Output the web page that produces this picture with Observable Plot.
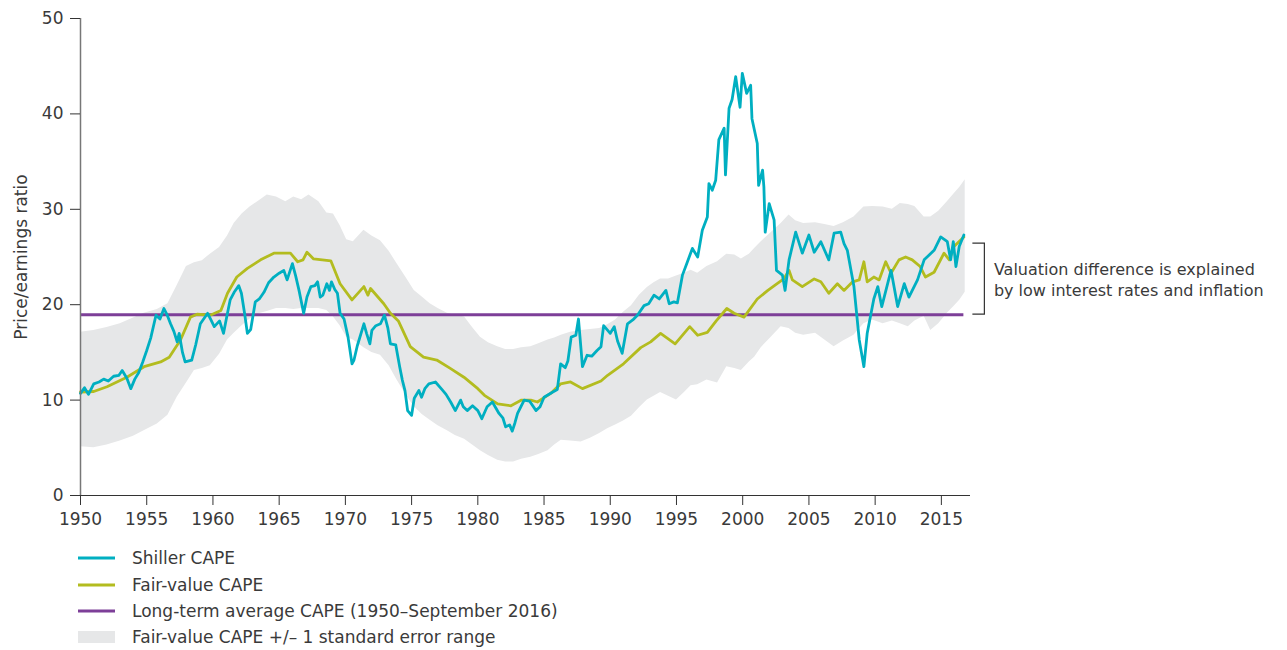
<!DOCTYPE html>
<html>
<head>
<meta charset="utf-8">
<script src="https://cdn.jsdelivr.net/npm/d3@7"></script>
<script src="https://cdn.jsdelivr.net/npm/@observablehq/plot@0.6"></script>
<style>
  body { margin: 0; background: #fff; font-family: "DejaVu Sans", sans-serif; color: #3a3a3a; }
  #chart svg { display: block; overflow: visible; }
  .legend { margin-left: 78px; padding-top: 5px; font-size: 17px; color: #3a3a3a; }
  .legend .row { display: flex; align-items: center; height: 26.4px; }
  .legend .sw { width: 37px; margin-right: 17px; display: flex; align-items: center; }
</style>
</head>
<body>
<div id="chart"></div>
<div class="legend" id="legend"></div>
<script>
// ---------- DATA ----------
const shillerYears = [1950.0,1950.3,1950.6,1951.0,1951.4,1951.75,1952.1,1952.5,1952.9,1953.15,1953.5,1953.8,1954.1,1954.4,1954.7,1955.0,1955.3,1955.7,1956.0,1956.3,1956.55,1956.8,1957.05,1957.3,1957.45,1957.7,1957.9,1958.4,1958.7,1959.05,1959.35,1959.6,1959.85,1960.1,1960.5,1960.8,1961.05,1961.3,1961.6,1961.95,1962.15,1962.4,1962.6,1962.85,1963.2,1963.5,1963.85,1964.2,1964.6,1965.0,1965.35,1965.6,1966.0,1966.25,1966.5,1966.85,1967.1,1967.4,1967.7,1967.9,1968.1,1968.3,1968.6,1968.8,1968.95,1969.2,1969.4,1969.6,1969.9,1970.2,1970.5,1970.65,1970.9,1971.4,1971.6,1971.85,1972.0,1972.3,1972.65,1972.95,1973.2,1973.4,1973.8,1974.1,1974.3,1974.5,1974.7,1975.0,1975.2,1975.55,1975.75,1976.0,1976.3,1976.8,1977.3,1977.6,1977.95,1978.3,1978.7,1978.9,1979.2,1979.6,1980.0,1980.3,1980.7,1981.1,1981.6,1981.9,1982.1,1982.4,1982.6,1982.8,1983.0,1983.5,1983.9,1984.4,1984.7,1985.0,1985.6,1986.0,1986.25,1986.6,1986.8,1987.05,1987.4,1987.6,1987.8,1987.9,1988.25,1988.6,1989.0,1989.3,1989.5,1990.0,1990.3,1990.55,1990.9,1991.3,1991.7,1992.05,1992.55,1992.9,1993.3,1993.7,1994.2,1994.45,1994.8,1995.07,1995.45,1995.8,1996.2,1996.6,1996.95,1997.33,1997.45,1997.7,1997.96,1998.2,1998.6,1998.7,1998.97,1999.2,1999.47,1999.8,1999.97,2000.3,2000.6,2000.7,2001.1,2001.2,2001.5,2001.6,2001.7,2002.0,2002.37,2002.55,2003.0,2003.2,2003.5,2004.0,2004.5,2005.0,2005.4,2005.9,2006.5,2006.9,2007.4,2007.65,2007.9,2008.4,2008.8,2009.15,2009.4,2009.9,2010.2,2010.5,2011.2,2011.7,2012.2,2012.55,2013.2,2013.7,2014.45,2014.95,2015.45,2015.7,2015.9,2016.1,2016.35,2016.7];
const shillerCape = [10.7,11.3,10.6,11.7,11.9,12.2,12.0,12.5,12.6,13.1,12.3,11.2,12.2,12.9,14.0,15.2,16.5,18.9,18.5,19.6,18.9,18.0,17.2,16.1,17.0,15.0,14.0,14.2,15.8,18.0,18.6,19.1,18.4,17.7,18.3,17.0,18.8,20.5,21.3,22.0,21.2,19.0,17.0,17.4,20.3,20.6,21.3,22.3,22.9,23.3,23.6,22.6,24.3,23.0,21.5,19.1,20.8,21.9,22.0,22.4,20.8,21.0,22.2,21.5,22.4,21.6,21.2,19.1,18.5,16.6,13.8,14.2,15.7,18.0,17.0,15.9,17.3,17.8,18.0,18.9,17.6,15.9,15.8,13.5,12.1,11.0,8.9,8.4,10.2,11.0,10.3,11.2,11.7,11.9,11.1,10.6,9.8,8.9,10.0,9.3,8.9,9.4,8.9,8.05,9.3,9.8,8.6,8.1,7.2,7.4,6.75,7.6,8.6,10.0,9.9,8.9,9.3,10.3,10.8,11.1,13.8,13.4,14.1,16.6,16.8,18.5,15.2,13.5,14.7,14.6,15.2,15.6,17.8,17.0,17.7,16.2,14.9,18.0,18.4,18.9,19.9,20.1,21.0,20.6,21.5,20.1,20.3,20.2,23.1,24.4,25.9,25.0,27.8,29.2,32.7,32.0,33.05,37.3,38.5,33.6,40.6,41.5,43.9,40.7,44.25,42.15,43.0,39.5,36.9,32.5,34.1,32.35,27.6,30.6,28.9,23.6,23.1,21.5,24.7,27.6,25.4,27.3,25.5,26.6,24.7,27.5,27.6,26.4,25.7,21.9,16.3,13.5,17.0,20.6,21.9,19.8,23.6,19.8,22.2,20.8,22.6,24.7,25.7,27.1,26.6,24.7,26.6,24.0,26.1,27.3];

const fairYears = [1950.0,1951.0,1952.0,1953.5,1954.8,1956.05,1956.7,1957.55,1958.3,1958.8,1959.8,1960.6,1961.1,1961.8,1962.6,1963.6,1964.6,1965.85,1966.4,1966.8,1967.1,1967.6,1968.9,1969.6,1970.5,1971.4,1971.7,1971.9,1972.9,1973.4,1974.0,1974.9,1975.9,1976.9,1977.95,1978.95,1980.0,1980.5,1981.5,1982.5,1983.3,1984.0,1984.5,1985.5,1986.25,1987.0,1987.9,1989.3,1989.8,1991.0,1992.3,1993.05,1993.8,1994.9,1996.0,1996.6,1997.33,1998.0,1998.8,1999.35,2000.1,2001.1,2001.9,2002.6,2003.1,2003.5,2003.75,2004.5,2005.4,2005.9,2006.5,2007.15,2007.65,2008.3,2008.8,2009.15,2009.4,2009.9,2010.3,2010.8,2011.2,2011.8,2012.3,2012.8,2013.4,2013.8,2014.45,2015.2,2015.6,2015.95,2016.7];
const fairCape = [10.85,10.9,11.4,12.4,13.5,14.0,14.5,16.3,18.7,19.0,18.9,19.4,21.2,22.9,23.8,24.7,25.4,25.4,24.5,24.7,25.5,24.8,24.6,22.2,20.5,21.9,21.0,21.7,20.1,19.1,18.3,15.6,14.5,14.2,13.3,12.4,11.2,10.5,9.6,9.4,10.0,10.0,9.8,10.7,11.7,11.9,11.2,12.0,12.6,13.8,15.5,16.1,17.0,15.9,17.7,16.8,17.1,18.3,19.6,19.1,18.7,20.6,21.5,22.2,22.7,23.6,22.6,21.9,22.7,22.4,21.2,22.2,21.5,22.4,22.6,24.5,22.4,22.9,22.6,24.5,23.3,24.7,25.0,24.7,24.0,22.9,23.4,25.4,24.7,26.1,27.1];

const bandYears = [1950.0,1951.0,1952.0,1953.0,1954.0,1954.8,1955.8,1956.6,1957.3,1958.0,1958.6,1959.2,1959.8,1960.5,1961.1,1961.6,1962.2,1962.8,1963.6,1964.1,1964.8,1965.5,1966.1,1966.7,1967.25,1968.0,1968.6,1969.1,1969.6,1970.1,1970.6,1971.4,1972.0,1972.65,1973.3,1973.9,1974.6,1975.2,1975.8,1976.4,1977.0,1977.7,1978.3,1979.0,1979.6,1980.2,1980.8,1981.5,1982.1,1982.7,1983.3,1984.0,1984.6,1985.3,1985.8,1986.3,1987.0,1987.8,1988.5,1989.2,1989.8,1990.4,1991.0,1991.6,1992.2,1992.8,1993.3,1993.8,1994.4,1995.0,1995.6,1996.1,1996.6,1997.3,1998.1,1998.8,1999.4,1999.9,2000.5,2000.9,2001.4,2002.1,2002.9,2003.5,2004.0,2004.6,2005.5,2006.2,2006.9,2007.6,2008.4,2009.15,2009.8,2010.6,2011.3,2011.9,2012.5,2013.0,2013.7,2014.2,2014.8,2015.45,2015.95,2016.4,2016.8];
const bandLow = [5.1,5.0,5.3,5.7,6.2,6.8,7.5,8.4,10.3,11.8,13.1,13.3,13.6,14.8,16.3,17.0,17.8,18.5,19.1,19.3,19.6,19.6,19.5,19.6,19.6,19.6,19.4,18.7,17.8,16.6,16.3,15.5,15.0,14.7,13.6,12.1,10.5,9.3,8.5,7.9,7.3,6.8,6.3,5.9,5.3,4.7,4.2,3.7,3.5,3.5,3.8,4.0,4.3,4.7,5.3,5.8,5.7,5.6,6.0,6.5,7.0,7.4,7.8,8.3,9.2,10.0,10.4,10.8,10.4,10.0,10.8,11.5,11.6,12.1,11.8,13.5,13.3,13.1,14.0,14.5,15.5,16.5,17.7,17.5,17.0,16.8,17.0,16.3,15.6,16.2,16.8,18.0,18.4,18.0,18.3,18.0,17.7,18.3,18.8,17.3,18.0,19.1,19.8,20.5,21.3];
const bandHigh = [17.1,17.3,17.6,18.0,18.6,19.1,19.5,20.1,22.0,24.0,24.4,24.6,25.3,26.0,27.2,28.5,29.5,30.25,31.0,31.5,31.3,30.8,31.3,31.0,31.5,30.8,29.6,29.5,28.3,26.8,26.6,27.8,27.2,26.7,25.6,24.3,22.8,21.5,20.8,20.1,19.6,19.1,18.9,18.7,17.6,16.6,16.0,15.6,15.3,15.3,15.5,15.6,15.9,16.3,16.5,16.8,17.1,17.3,17.4,17.5,17.9,18.4,19.2,19.9,21.0,21.8,22.3,22.7,22.7,23.0,23.3,23.6,23.3,24.0,24.5,25.3,25.2,24.8,25.3,25.9,26.6,27.5,28.5,29.4,28.8,28.5,28.6,28.4,28.2,28.6,29.2,30.25,30.3,30.25,30.0,30.6,30.5,30.3,29.2,29.2,29.8,30.8,31.6,32.3,33.1];

const longTermAverage = 18.95;
const annotationTop = 26.4; // bracket upper bound (fair-value level)
const annotationLines = ["Valuation difference is explained", "by low interest rates and inflation"];
const xTicks = [1950,1955,1960,1965,1970,1975,1980,1985,1990,1995,2000,2005,2010,2015];
const yTicks = [0,10,20,30,40,50];
const legendItems = [
  {label: "Shiller CAPE", type: "line", color: "#00afc1"},
  {label: "Fair-value CAPE", type: "line", color: "#b3bc1f"},
  {label: "Long-term average CAPE (1950\u2013September 2016)", type: "line", color: "#7d3f98"},
  {label: "Fair-value CAPE +/\u2013 1 standard error range", type: "area", color: "#e6e7e8"}
];

// ---------- BUILD ----------
const shiller = shillerYears.map((x, i) => ({x, y: shillerCape[i]}));
const fair = fairYears.map((x, i) => ({x, y: fairCape[i]}));
const band = bandYears.map((x, i) => ({x, lo: bandLow[i], hi: bandHigh[i]}));
const lastYear = shillerYears[shillerYears.length - 1];

const font = "'DejaVu Sans', sans-serif";

const chart = Plot.plot({
  width: 1287,
  height: 540,
  marginLeft: 80,
  marginRight: 317,
  marginTop: 18,
  marginBottom: 45,
  style: {fontFamily: font, color: "#3a3a3a", background: "transparent"},
  x: {domain: [1950, 2017.2]},
  y: {domain: [0, 50]},
  marks: [
    Plot.areaY(band, {x: "x", y1: "lo", y2: "hi", fill: "#e6e7e8", curve: "linear"}),
    Plot.ruleY([longTermAverage], {x1: 1950, x2: lastYear, stroke: "#7d3f98", strokeWidth: 3}),
    Plot.line(fair, {x: "x", y: "y", stroke: "#b3bc1f", strokeWidth: 2.8}),
    Plot.line(shiller, {x: "x", y: "y", stroke: "#00afc1", strokeWidth: 2.8}),
    Plot.ruleX([1950], {stroke: "#777", strokeWidth: 1.5}),
    Plot.ruleY([0], {stroke: "#333", strokeWidth: 1}),
    Plot.axisX({ticks: xTicks, tickFormat: d => String(d), tickSize: 10, tickPadding: 7, fontSize: 17, label: null, stroke: "#333"}),
    Plot.axisY({ticks: yTicks, tickSize: 10, tickPadding: 7, fontSize: 17, label: null, stroke: "#333"}),
    Plot.axisY({ticks: [], label: "Price/earnings ratio", labelAnchor: "center", labelArrow: "none", labelOffset: 66, fontSize: 17}),
    Plot.text([annotationLines.join("\n")], {
      x: lastYear, y: (longTermAverage + annotationTop) / 2,
      dx: 30, textAnchor: "start", lineAnchor: "middle", fontSize: 16, lineHeight: 1.3, fill: "#3a3a3a"
    })
  ]
});
document.getElementById("chart").appendChild(chart);

// bracket
const xs = chart.scale("x"), ys = chart.scale("y");
const bx = xs.apply(lastYear) + 21;
const yTop = ys.apply(annotationTop), yBot = ys.apply(longTermAverage);
d3.select(chart).append("path")
  .attr("d", `M${bx - 12},${yTop}H${bx}V${yBot}H${bx - 12}`)
  .attr("fill", "none").attr("stroke", "#333").attr("stroke-width", 1.2);

// legend
const lg = d3.select("#legend");
legendItems.forEach(it => {
  const row = lg.append("div").attr("class", "row");
  const sw = row.append("div").attr("class", "sw").append("svg").attr("width", 37).attr("height", 14);
  if (it.type === "line") {
    sw.append("line").attr("x1", 0).attr("x2", 37).attr("y1", 7).attr("y2", 7)
      .attr("stroke", it.color).attr("stroke-width", 3);
  } else {
    sw.append("rect").attr("x", 0).attr("y", 1).attr("width", 37).attr("height", 12).attr("fill", it.color);
  }
  row.append("span").text(it.label);
});
</script>
</body>
</html>
